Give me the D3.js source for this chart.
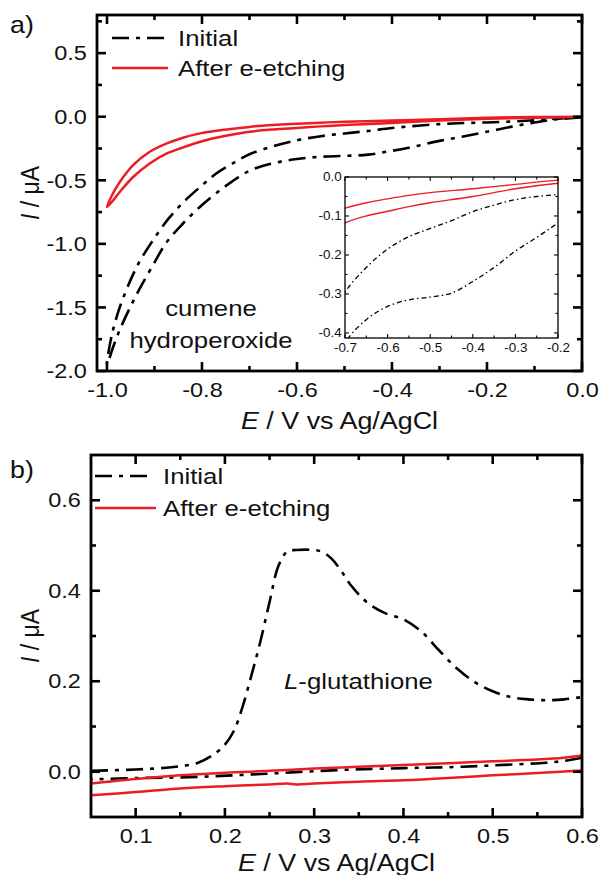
<!DOCTYPE html>
<html>
<head>
<meta charset="utf-8">
<script src="https://cdn.jsdelivr.net/npm/d3@7"></script>
<style>
  body { margin: 0; background: #fff; }
  svg { display: block; font-family: "Liberation Sans", Arial, sans-serif; }
</style>
</head>
<body>
<div id="chart"></div>
<script>
// ---- panel a: cumene hydroperoxide (E in V, I in uA) ----
// initial electrode, cathodic sweep 0 -> -1.0 then return to 0
const aInitialCathE = [0, -0.05, -0.1, -0.15, -0.2, -0.25, -0.3, -0.35, -0.4, -0.45, -0.5, -0.55, -0.6, -0.65, -0.7, -0.75, -0.8, -0.84, -0.875, -0.905, -0.93, -0.95, -0.97, -0.985, -1.0];
const aInitialCathI = [-0.005, -0.02, -0.045, -0.08, -0.118, -0.155, -0.19, -0.232, -0.268, -0.298, -0.308, -0.315, -0.332, -0.366, -0.425, -0.545, -0.695, -0.84, -0.99, -1.18, -1.345, -1.49, -1.65, -1.79, -1.95];
const aInitialAnodE = [-1.0, -0.99, -0.975, -0.96, -0.945, -0.93, -0.91, -0.89, -0.87, -0.84, -0.8, -0.77, -0.73, -0.7, -0.65, -0.6, -0.55, -0.5, -0.45, -0.4, -0.35, -0.3, -0.25, -0.2, -0.15, -0.1, -0.05, 0];
const aInitialAnodI = [-1.95, -1.72, -1.52, -1.37, -1.24, -1.13, -1.01, -0.9, -0.8, -0.675, -0.54, -0.447, -0.355, -0.295, -0.232, -0.185, -0.153, -0.132, -0.112, -0.089, -0.072, -0.058, -0.05, -0.045, -0.038, -0.028, -0.015, -0.003];

// after e-etching
const aEtchedCathE = [0, -0.1, -0.2, -0.3, -0.4, -0.5, -0.55, -0.6, -0.65, -0.7, -0.75, -0.8, -0.85, -0.875, -0.91, -0.945, -0.973, -0.987, -1.0];
const aEtchedCathI = [-0.002, -0.008, -0.016, -0.03, -0.05, -0.066, -0.076, -0.088, -0.1, -0.118, -0.15, -0.193, -0.255, -0.29, -0.368, -0.474, -0.592, -0.658, -0.71];
const aEtchedAnodE = [-1.0, -0.987, -0.973, -0.945, -0.91, -0.874, -0.84, -0.804, -0.77, -0.734, -0.7, -0.65, -0.6, -0.55, -0.5, -0.4, -0.3, -0.2, -0.1, 0];
const aEtchedAnodI = [-0.71, -0.6, -0.513, -0.381, -0.276, -0.21, -0.165, -0.131, -0.11, -0.095, -0.08, -0.066, -0.056, -0.047, -0.04, -0.03, -0.019, -0.008, -0.003, 0.0];

// ---- panel b: L-glutathione ----
const bInitialFwdE = [0.05, 0.1, 0.14, 0.17, 0.19, 0.2, 0.21, 0.22, 0.23, 0.24, 0.25, 0.26, 0.27, 0.28, 0.3, 0.31, 0.32, 0.33, 0.34, 0.36, 0.38, 0.4, 0.42, 0.44, 0.46, 0.48, 0.5, 0.52, 0.54, 0.56, 0.58, 0.6];
const bInitialFwdI = [0.002, 0.005, 0.01, 0.02, 0.042, 0.06, 0.09, 0.145, 0.215, 0.29, 0.375, 0.455, 0.487, 0.49, 0.49, 0.485, 0.47, 0.445, 0.415, 0.373, 0.35, 0.337, 0.31, 0.268, 0.228, 0.198, 0.178, 0.165, 0.16, 0.158, 0.16, 0.165];
const bInitialRevE = [0.6, 0.58, 0.56, 0.5, 0.45, 0.4, 0.33, 0.24, 0.16, 0.1, 0.05];
const bInitialRevI = [0.031, 0.024, 0.02, 0.014, 0.01, 0.008, 0.004, -0.005, -0.012, -0.014, -0.017];
const bEtchedUpE = [0.05, 0.1, 0.15, 0.2, 0.25, 0.3, 0.35, 0.4, 0.45, 0.5, 0.55, 0.58, 0.6];
const bEtchedUpI = [-0.026, -0.016, -0.008, -0.002, 0.002, 0.007, 0.011, 0.015, 0.019, 0.023, 0.027, 0.031, 0.036];
const bEtchedLowE = [0.05, 0.1, 0.15, 0.2, 0.25, 0.27, 0.28, 0.3, 0.35, 0.4, 0.45, 0.5, 0.55, 0.6];
const bEtchedLowI = [-0.052, -0.045, -0.037, -0.032, -0.028, -0.026, -0.028, -0.026, -0.022, -0.019, -0.014, -0.008, -0.003, 0.003];

// ticks
const aXTicks = [-1.0, -0.8, -0.6, -0.4, -0.2, 0.0];
const aXLabels = ["-1.0", "-0.8", "-0.6", "-0.4", "-0.2", "0.0"];
const aXMinor = [-0.9, -0.7, -0.5, -0.3, -0.1];
const aYTicks = [-2.0, -1.5, -1.0, -0.5, 0.0, 0.5];
const aYLabels = ["-2.0", "-1.5", "-1.0", "-0.5", "0.0", "0.5"];
const aYMinor = [-1.75, -1.25, -0.75, -0.25, 0.25, 0.75];
const inXTicks = [-0.7, -0.6, -0.5, -0.4, -0.3, -0.2];
const inXLabels = ["-0.7", "-0.6", "-0.5", "-0.4", "-0.3", "-0.2"];
const inXMinor = [-0.65, -0.55, -0.45, -0.35, -0.25];
const inYTicks = [-0.4, -0.3, -0.2, -0.1, 0.0];
const inYLabels = ["-0.4", "-0.3", "-0.2", "-0.1", "0.0"];
const inYMinor = [-0.35, -0.25, -0.15, -0.05];
const bXTicks = [0.1, 0.2, 0.3, 0.4, 0.5, 0.6];
const bXLabels = ["0.1", "0.2", "0.3", "0.4", "0.5", "0.6"];
const bXMinor = [0.15, 0.25, 0.35, 0.45, 0.55];
const bYTicks = [0.0, 0.2, 0.4, 0.6];
const bYLabels = ["0.0", "0.2", "0.4", "0.6"];
const bYMinor = [0.1, 0.3, 0.5];

const RED = "#ed1c24";
const DASH = "17,7,4,7";
const SX = 1.12; // the original lettering is a bit wide

const svg = d3.select("#chart").append("svg")
    .attr("width", 602)
    .attr("height", 875);

const pts = (E, I) => E.map((e, i) => [e, I[i]]);

// text helper, parts = [[string, italic], ...]
function label(x, y, parts, size, anchor, rot) {
    const t = svg.append("text")
        .attr("transform", `translate(${x},${y}) scale(${SX},1)` + (rot ? ` rotate(${rot})` : ""))
        .attr("font-size", size)
        .attr("text-anchor", anchor || "start")
        .attr("fill", "#111");
    parts.forEach(p => t.append("tspan").attr("font-style", p[1] ? "italic" : null).text(p[0]));
    return t;
}

// frame: d3 axes for the labels, inward ticks on all four sides
function frame(x, y, o) {
    const [x0, x1] = x.range();
    const [yb, yt] = y.range();
    const g = svg.append("g");

    const bottom = g.append("g").attr("transform", `translate(0,${yb})`)
        .call(d3.axisBottom(x).tickValues(o.xt).tickFormat((d, i) => o.xl[i]).tickSize(0).tickPadding(o.padX));
    const left = g.append("g").attr("transform", `translate(${x0},0)`)
        .call(d3.axisLeft(y).tickValues(o.yt).tickFormat((d, i) => o.yl[i]).tickSize(0).tickPadding(o.padY));
    [bottom, left].forEach(s => {
        s.select(".domain").remove();
        s.selectAll(".tick line").remove();
        s.attr("font-family", null).attr("font-size", o.fs);
        s.selectAll("text").attr("fill", "#111").attr("transform", `scale(${SX},1)`);
    });

    const xt = o.xt.map(v => ({ v: v, len: o.major })).concat(o.xm.map(v => ({ v: v, len: o.minor })));
    const ytk = o.yt.map(v => ({ v: v, len: o.major })).concat(o.ym.map(v => ({ v: v, len: o.minor })));
    const tg = g.append("g").attr("stroke", "#000").attr("stroke-width", o.tw);

    // bottom and top
    [[yb, -1], [yt, 1]].forEach(([edge, dir]) => {
        tg.selectAll(null).data(xt).join("line")
            .attr("x1", d => x(d.v)).attr("x2", d => x(d.v))
            .attr("y1", edge).attr("y2", d => edge + dir * d.len);
    });
    // left and right
    [[x0, 1], [x1, -1]].forEach(([edge, dir]) => {
        tg.selectAll(null).data(ytk).join("line")
            .attr("y1", d => y(d.v)).attr("y2", d => y(d.v))
            .attr("x1", edge).attr("x2", d => edge + dir * d.len);
    });

    g.append("rect")
        .attr("x", x0).attr("y", yt)
        .attr("width", x1 - x0).attr("height", yb - yt)
        .attr("fill", "none").attr("stroke", "#000").attr("stroke-width", o.sw);
}

function clip(id, x, y) {
    svg.append("clipPath").attr("id", id).append("rect")
        .attr("x", x.range()[0]).attr("y", y.range()[1])
        .attr("width", x.range()[1] - x.range()[0])
        .attr("height", y.range()[0] - y.range()[1]);
}

function curve(x, y, data, color, width, dash, clipId) {
    const line = d3.line().x(d => x(d[0])).y(d => y(d[1])).curve(d3.curveCatmullRom.alpha(0.5));
    svg.append("path")
        .datum(data)
        .attr("d", line)
        .attr("fill", "none")
        .attr("stroke", color)
        .attr("stroke-width", width)
        .attr("stroke-dasharray", dash)
        .attr("stroke-linejoin", "round")
        .attr("clip-path", `url(#${clipId})`);
}

// ---------- panel a ----------
const xA = d3.scaleLinear().domain([-1.021, 0]).range([97, 582]);
const yA = d3.scaleLinear().domain([-2.0, 0.8]).range([371, 15]);
clip("clipA", xA, yA);

const aInitial = pts(aInitialCathE, aInitialCathI).concat(pts(aInitialAnodE, aInitialAnodI).slice(1));
const aEtched = pts(aEtchedCathE, aEtchedCathI).concat(pts(aEtchedAnodE, aEtchedAnodI).slice(1));

curve(xA, yA, aInitial, "#000", 2.6, DASH, "clipA");
curve(xA, yA, aEtched, RED, 2.5, null, "clipA");

// inset
const xI = d3.scaleLinear().domain([-0.7, -0.2]).range([345, 558]);
const yI = d3.scaleLinear().domain([-0.413, 0]).range([338, 177]);
svg.append("rect").attr("x", 345).attr("y", 177).attr("width", 213).attr("height", 161).attr("fill", "#fff");
clip("clipI", xI, yI);
curve(xI, yI, aInitial, "#000", 1.3, "5,3,1.5,3", "clipI");
curve(xI, yI, aEtched, RED, 1.4, null, "clipI");
frame(xI, yI, {
    xt: inXTicks, xl: inXLabels, xm: inXMinor,
    yt: inYTicks, yl: inYLabels, ym: inYMinor,
    major: 4, minor: 2.5, fs: 12, padX: 5, padY: 3, tw: 1.1, sw: 1.3
});

frame(xA, yA, {
    xt: aXTicks, xl: aXLabels, xm: aXMinor,
    yt: aYTicks, yl: aYLabels, ym: aYMinor,
    major: 9, minor: 5, fs: 21, padX: 11, padY: 9, tw: 2.6, sw: 2.8
});

// legend a
svg.append("line").attr("x1", 112).attr("x2", 168).attr("y1", 38).attr("y2", 38)
    .attr("stroke", "#000").attr("stroke-width", 2.6).attr("stroke-dasharray", DASH);
svg.append("line").attr("x1", 112).attr("x2", 168).attr("y1", 68).attr("y2", 68)
    .attr("stroke", RED).attr("stroke-width", 2.5);
label(178, 46, [["Initial"]], 23);
label(178, 76, [["After e-etching"]], 23);

label(211, 316, [["cumene"]], 23, "middle");
label(211, 348, [["hydroperoxide"]], 23, "middle");
label(10, 33, [["a)"]], 24);
label(339.5, 429, [["E", true], [" / V vs Ag/AgCl"]], 24, "middle");
label(39, 193, [["I", true], [" / \u03bcA"]], 23, "middle", -90);

// ---------- panel b ----------
const xB = d3.scaleLinear().domain([0.05, 0.6]).range([91, 582]);
const yB = d3.scaleLinear().domain([-0.1, 0.7]).range([817, 455]);
clip("clipB", xB, yB);

curve(xB, yB, pts(bInitialFwdE, bInitialFwdI), "#000", 2.6, DASH, "clipB");
curve(xB, yB, pts(bInitialRevE, bInitialRevI), "#000", 2.6, DASH, "clipB");
curve(xB, yB, pts(bEtchedUpE, bEtchedUpI), RED, 2.5, null, "clipB");
curve(xB, yB, pts(bEtchedLowE, bEtchedLowI), RED, 2.5, null, "clipB");

frame(xB, yB, {
    xt: bXTicks, xl: bXLabels, xm: bXMinor,
    yt: bYTicks, yl: bYLabels, ym: bYMinor,
    major: 9, minor: 5, fs: 21, padX: 11, padY: 9, tw: 2.6, sw: 2.8
});

svg.append("line").attr("x1", 95).attr("x2", 153).attr("y1", 476).attr("y2", 476)
    .attr("stroke", "#000").attr("stroke-width", 2.6).attr("stroke-dasharray", DASH);
svg.append("line").attr("x1", 95).attr("x2", 156).attr("y1", 508).attr("y2", 508)
    .attr("stroke", RED).attr("stroke-width", 2.5);
label(163, 484, [["Initial"]], 23);
label(163, 516, [["After e-etching"]], 23);

label(284, 689, [["L", true], ["-glutathione"]], 23);
label(10, 478, [["b)"]], 24);
label(336.5, 871, [["E", true], [" / V vs Ag/AgCl"]], 24, "middle");
label(39, 636, [["I", true], [" / \u03bcA"]], 23, "middle", -90);
</script>
</body>
</html>
